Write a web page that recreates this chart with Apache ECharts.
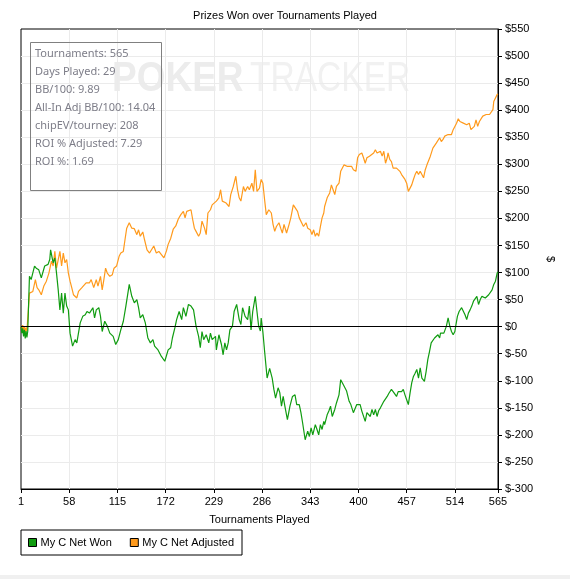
<!DOCTYPE html>
<html>
<head>
<meta charset="utf-8">
<script src="https://cdn.jsdelivr.net/npm/echarts@6/dist/echarts.min.js"></script>
<style>
html, body { margin: 0; padding: 0; background: #fff; }
#main { width: 570px; height: 579px; }
</style>
</head>
<body>
<div id="main"></div>
<script>
// [tournament, $]
var netWon = [
    [1, 0], [2, -12], [3, -3], [4, -18], [5, -6], [6, -22], [7, -8], [8, -20], [9, -8],
    [11, 93], [13, 87], [17, 112], [19, 108], [22, 105], [25, 90], [29, 112], [33, 115],
    [35, 124], [36, 142], [39, 118], [41, 127], [43, 99], [45, 68], [47, 31], [49, 62],
    [51, 25], [53, 62], [55, 38], [57, 31], [59, -12], [62, -36], [65, -24], [67, -30],
    [71, 7], [74, 19], [77, 22], [79, 28], [82, 25], [86, 35], [88, 16], [90, 31],
    [93, 35], [95, 19], [97, -9], [100, 10], [103, 1], [106, -12], [110, -18], [113, -33],
    [116, -24], [119, -6], [122, 10], [125, 38], [129, 78], [132, 56], [135, 44], [138, 50],
    [140, 35], [142, 16], [145, 22], [148, 7], [151, -21], [154, -30], [157, -24], [159, -36],
    [163, -43], [167, -55], [171, -64], [175, -43], [178, -39], [180, -21], [183, -2], [185, 13],
    [188, 28], [191, 13], [193, 35], [196, 19], [199, 41], [202, 38], [205, 31], [208, 1],
    [211, -18], [213, -39], [215, -9], [217, -24], [220, -15], [223, -30], [225, -12], [227, -24],
    [231, -18], [232, -43], [235, -15], [238, -33], [240, -52], [242, -30], [244, -43], [246, -30],
    [248, -6], [251, 1], [253, 28], [256, 41], [259, 13], [261, 4], [263, 35], [266, 19],
    [269, 13], [271, 38], [273, -6], [275, 28], [278, 56], [280, 28], [282, 1], [284, -8],
    [285, 16], [287, -10], [289, -45], [292, -95], [295, -77], [298, -95], [300, -116], [302, -132],
    [305, -113], [307, -122], [309, -147], [311, -129], [313, -147], [316, -172], [319, -147], [322, -129],
    [325, -126], [327, -144], [330, -144], [332, -159], [334, -178], [337, -209], [340, -193], [342, -203],
    [344, -187], [346, -200], [349, -181], [351, -190], [353, -200], [355, -181], [357, -190], [359, -175],
    [360, -181], [363, -163], [365, -156], [367, -147], [369, -166], [372, -153], [374, -141], [377, -126],
    [379, -98], [382, -107], [384, -104], [386, -119], [389, -138], [391, -144], [394, -159], [396, -156],
    [398, -144], [400, -147], [402, -144], [404, -156], [406, -159], [408, -175], [410, -159], [412, -156],
    [414, -166], [416, -153], [418, -163], [420, -153], [422, -166], [424, -155], [426, -150], [428, -144],
    [430, -138], [432, -135], [434, -129], [436, -123], [439, -116], [441, -120], [443, -123], [445, -129],
    [447, -120], [449, -123], [451, -120], [453, -116], [455, -126], [457, -135], [459, -144], [461, -123],
    [463, -104], [465, -92], [467, -86], [469, -79], [471, -95], [473, -76], [475, -95], [478, -101],
    [480, -83], [482, -61], [484, -46], [486, -30], [488, -27], [490, -21], [492, -24], [494, -15],
    [496, -21], [497, -12], [499, -9], [501, -12], [504, 1], [506, 16], [508, 1], [510, -9],
    [512, -15], [514, -9], [515, 1], [517, 19], [519, 28], [522, 35], [524, 38], [526, 22],
    [528, 13], [530, 25], [532, 31], [534, 38], [536, 47], [538, 44], [540, 56], [542, 41],
    [544, 50], [546, 56], [548, 59], [550, 53], [552, 56], [554, 59], [556, 62], [558, 68],
    [560, 78], [562, 84], [564, 99], [565, 101]
];

var netAdjusted = [
    [1, 0], [2, -5], [3, 3], [4, -8], [5, 0], [6, -10], [7, -2], [8, -8], [9, -5],
    [11, 62], [13, 59], [15, 65], [18, 87], [20, 72], [22, 68], [25, 59], [28, 75],
    [31, 84], [34, 99], [37, 121], [39, 112], [41, 139], [43, 108], [45, 105], [47, 139],
    [49, 112], [51, 136], [53, 118], [55, 124], [57, 99], [59, 84], [61, 72], [63, 59],
    [67, 53], [69, 65], [73, 72], [75, 75], [78, 81], [82, 81], [84, 87], [87, 72],
    [90, 87], [92, 75], [95, 93], [97, 68], [99, 87], [101, 108], [103, 99], [106, 93],
    [109, 96], [111, 108], [114, 112], [117, 130], [119, 136], [122, 139], [124, 161], [126, 182],
    [129, 192], [132, 182], [135, 181], [138, 170], [140, 179], [142, 167], [145, 175], [147, 161],
    [150, 142], [153, 136], [155, 136], [158, 149], [161, 136], [164, 139], [167, 133], [170, 127],
    [173, 140], [175, 152], [178, 163], [181, 180], [184, 186], [187, 199], [190, 207], [193, 213],
    [195, 201], [197, 213], [199, 216], [202, 216], [204, 198], [206, 182], [208, 176], [211, 167],
    [213, 173], [215, 195], [218, 182], [220, 170], [222, 210], [225, 216], [227, 225], [229, 222],
    [232, 232], [235, 238], [237, 253], [239, 232], [241, 232], [243, 229], [245, 232], [247, 222],
    [249, 244], [252, 259], [255, 278], [257, 253], [259, 238], [261, 232], [264, 259], [266, 250],
    [269, 259], [271, 253], [274, 265], [276, 250], [278, 290], [280, 250], [282, 253], [283, 256],
    [285, 272], [287, 265], [289, 235], [291, 207], [294, 216], [297, 210], [299, 189], [301, 176],
    [303, 185], [306, 192], [308, 182], [310, 173], [312, 189], [315, 173], [318, 189], [320, 201],
    [323, 225], [325, 225], [328, 213], [330, 201], [332, 204], [335, 185], [338, 192], [340, 182],
    [343, 179], [345, 170], [347, 179], [349, 167], [351, 173], [353, 167], [355, 185], [357, 201],
    [359, 210], [360, 222], [363, 238], [366, 247], [368, 262], [370, 253], [372, 244], [374, 259],
    [375, 262], [377, 265], [379, 287], [381, 293], [383, 299], [385, 302], [387, 296], [389, 299],
    [392, 296], [394, 290], [397, 287], [399, 312], [401, 318], [404, 321], [406, 312], [408, 302],
    [410, 312], [413, 315], [415, 318], [418, 321], [420, 327], [422, 321], [424, 324], [426, 324],
    [428, 315], [430, 324], [432, 302], [434, 312], [435, 321], [437, 309], [439, 305], [441, 293],
    [443, 296], [445, 293], [447, 290], [449, 287], [451, 281], [453, 278], [455, 272], [457, 265],
    [459, 250], [461, 256], [463, 262], [465, 272], [467, 281], [469, 287], [471, 281], [473, 287],
    [475, 284], [477, 275], [479, 290], [481, 299], [483, 302], [485, 315], [487, 318], [488, 330],
    [490, 333], [492, 339], [494, 342], [496, 349], [498, 342], [500, 346], [502, 352], [504, 349],
    [506, 355], [508, 358], [510, 355], [512, 364], [514, 370], [516, 376], [518, 384], [520, 379],
    [522, 382], [524, 376], [526, 379], [528, 373], [530, 370], [531, 376], [533, 364], [535, 367],
    [537, 370], [539, 382], [541, 370], [543, 379], [545, 382], [547, 389], [549, 386], [551, 392],
    [553, 389], [555, 392], [557, 395], [559, 401], [560, 416], [562, 419], [564, 429], [565, 430]
];

var seriesNames = ['My C Net Won', 'My C Net Adjusted'];

var statLines = [
    'Tournaments: 565',
    'Days Played: 29',
    'BB/100: 9.89',
    'All-In Adj BB/100: 14.04',
    'chipEV/tourney: 208',
    'ROI % Adjusted: 7.29',
    'ROI %: 1.69'
];

var myChart = echarts.init(document.getElementById('main'));

// x axis counts from 0 so the 57 step lands on 1, 58, 115 ...
function shift(arr) {
    return arr.map(function (p) { return [p[0] - 1, p[1]]; });
}

var font = 'Liberation Sans';

var graphics = [
    // faint watermark
    { type: 'text', z: 0, x: 112, y: 79, scaleX: 0.86,
      style: { text: 'POKER', fill: '#ececec', fontFamily: font, fontWeight: 'bold', fontSize: 43, verticalAlign: 'middle' } },
    { type: 'text', z: 0, x: 250, y: 79, scaleX: 0.78,
      style: { text: 'TRACKER', fill: '#f1f1f1', fontFamily: font, fontSize: 43, verticalAlign: 'middle' } },
    // stats box
    { type: 'rect', z: 10, shape: { x: 30.5, y: 42.5, width: 131, height: 148 },
      style: { fill: 'rgba(255,255,255,0)', stroke: '#808080', lineWidth: 1 } },
    // strip at the bottom
    { type: 'rect', z: 10, shape: { x: 0, y: 575, width: 570, height: 4 }, style: { fill: '#f0f0f0' } }
];
statLines.forEach(function (s, i) {
    graphics.push({ type: 'text', z: 11, x: 35, y: 54 + i * 18,
        style: { text: s, fill: '#7d7d88', fontFamily: 'Noto Sans', fontSize: 11, verticalAlign: 'middle' } });
});

option = {
    backgroundColor: '#fff',
    animation: false,
    title: {
        text: 'Prizes Won over Tournaments Played',
        left: 'center',
        top: 5,
        textStyle: { fontFamily: font, fontSize: 11, fontWeight: 'normal', color: '#000' }
    },
    legend: {
        left: 21,
        top: 530,
        data: seriesNames,
        icon: 'rect',
        itemWidth: 8,
        itemHeight: 8,
        itemGap: 18,
        padding: [7, 8, 7, 7],
        borderColor: '#000',
        borderWidth: 1,
        itemStyle: { borderColor: '#000', borderWidth: 1 },
        textStyle: { fontFamily: font, fontSize: 11, color: '#000', padding: [0, 0, 0, -1] }
    },
    grid: {
        left: 21, right: 72, top: 29, bottom: 90,
        show: true, borderColor: '#000', borderWidth: 1
    },
    xAxis: {
        type: 'value',
        min: 0,
        max: 564,
        interval: 57,
        name: 'Tournaments Played',
        nameLocation: 'middle',
        nameGap: 25,
        nameTextStyle: { fontFamily: font, fontSize: 11, color: '#000' },
        axisLine: { onZero: false, lineStyle: { color: '#000' } },
        axisTick: { length: 4, lineStyle: { color: '#000' } },
        axisLabel: { margin: 7, fontFamily: font, fontSize: 11, color: '#000',
            formatter: function (v) { return v + 1; } },
        splitLine: { showMinLine: false, showMaxLine: false, lineStyle: { color: '#ebebeb' } }
    },
    yAxis: {
        type: 'value',
        position: 'right',
        min: -300,
        max: 550,
        interval: 50,
        name: '$',
        nameLocation: 'middle',
        nameGap: 42,
        nameRotate: -90,
        nameTextStyle: { fontFamily: font, fontSize: 11, color: '#000' },
        axisLine: { show: true, onZero: false, lineStyle: { color: '#000' } },
        axisTick: { show: true, length: 4, lineStyle: { color: '#000' } },
        axisLabel: { margin: 7, fontFamily: font, fontSize: 11, color: '#000',
            formatter: function (v) { return '$' + v; } },
        splitLine: { showMinLine: false, showMaxLine: false, lineStyle: { color: '#ebebeb' } }
    },
    series: [
        {
            name: seriesNames[0],
            type: 'line',
            data: shift(netWon),
            showSymbol: false,
            color: '#109c10',
            lineStyle: { width: 1.2 },
            z: 3,
            markLine: {
                silent: true,
                symbol: 'none',
                label: { show: false },
                lineStyle: { color: '#000', type: 'solid', width: 1 },
                data: [{ yAxis: 0 }]
            }
        },
        {
            name: seriesNames[1],
            type: 'line',
            data: shift(netAdjusted),
            showSymbol: false,
            color: '#ff9a1c',
            lineStyle: { width: 1.2 },
            z: 2
        }
    ],
    graphic: graphics
};

myChart.setOption(option);
</script>
</body>
</html>
